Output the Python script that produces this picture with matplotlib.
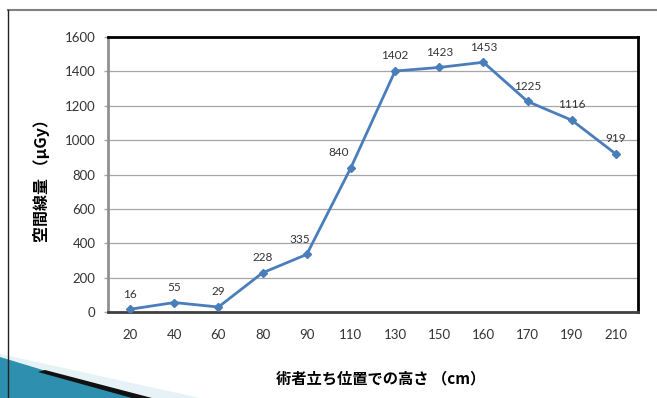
import matplotlib
matplotlib.use("Agg")
import matplotlib.pyplot as plt
from matplotlib.patches import Polygon
from matplotlib.lines import Line2D
import numpy as np

categories = ["20", "40", "60", "80", "90", "110", "130", "150", "160", "170", "190", "210"]
values = [16, 55, 29, 228, 335, 840, 1402, 1423, 1453, 1225, 1116, 919]
yticks = [0, 200, 400, 600, 800, 1000, 1200, 1400, 1600]
ylabel = "空間線量 （μGy）"
xlabel = "術者立ち位置での高さ （cm）"

# horizontal nudges (points) for labels that sit left of their marker
label_dx = {4: -5, 5: -9}

W, H = 657, 398
fig = plt.figure(figsize=(W / 100, H / 100), dpi=100)
fig.patch.set_facecolor("white")

def fx(px):
    return px / W

def fy(py):
    return 1 - py / H

# slide decoration
fig.add_artist(Polygon([(fx(0), fy(354)), (fx(200), fy(398)), (fx(135), fy(398)), (fx(0), fy(358))],
                       closed=True, transform=fig.transFigure, facecolor="#E6F2F6", edgecolor="none"))
fig.add_artist(Polygon([(fx(0), fy(357)), (fx(135), fy(398)), (fx(0), fy(398))],
                       closed=True, transform=fig.transFigure, facecolor="#2E8FAE", edgecolor="none"))
fig.add_artist(Polygon([(fx(45), fy(370)), (fx(152), fy(398)), (fx(132), fy(398)), (fx(38), fy(372))],
                       closed=True, transform=fig.transFigure, facecolor="#111111", edgecolor="none"))
fig.add_artist(Line2D([fx(8), fx(657)], [fy(10), fy(10)], transform=fig.transFigure, color="#808080", lw=1.5))
fig.add_artist(Line2D([fx(8), fx(8)], [fy(10), fy(398)], transform=fig.transFigure, color="#222222", lw=1.0))

ax = fig.add_axes([fx(108), fy(312), fx(638) - fx(108), fy(37) - fy(312)])
x = np.arange(len(categories))
ax.plot(x, values, color="#4A7EBB", lw=2, marker="D", markersize=4.5, zorder=3)
for i, (xi, v) in enumerate(zip(x, values)):
    ax.annotate(str(v), (xi, v), xytext=(label_dx.get(i, 0), 7), textcoords="offset points",
                ha="center", va="bottom", fontsize=8.5, color="#333333", family="Lato")

ax.set_xlim(-0.5, len(categories) - 0.5)
ax.set_ylim(0, 1600)
ax.set_yticks(yticks)
ax.set_xticks(x)
ax.set_xticklabels(categories)
ax.yaxis.grid(True, color="#A6A6A6", lw=0.9)
ax.set_axisbelow(True)
ax.tick_params(axis="x", length=0, pad=12, labelsize=9.5, colors="#333333")
ax.tick_params(axis="y", length=3, width=1, color="#A6A6A6", pad=6, labelsize=9.5, labelcolor="#333333")
for lbl in ax.get_xticklabels() + ax.get_yticklabels():
    lbl.set_family("Lato")

for side in ["top", "right"]:
    ax.spines[side].set_color("black")
    ax.spines[side].set_linewidth(2)
ax.spines["left"].set_color("#909090")
ax.spines["left"].set_linewidth(2)
ax.spines["bottom"].set_color("#404040")
ax.spines["bottom"].set_linewidth(2)

fig.text(fx(42), fy(177), ylabel, rotation=90, ha="center", va="center",
         fontsize=11.5, fontweight="bold", family=["Noto Sans CJK JP", "DejaVu Sans"])
fig.text(fx(381), fy(378), xlabel, ha="center", va="center",
         fontsize=11, fontweight="bold", family=["Noto Sans CJK JP", "DejaVu Sans"])

fig.savefig("out.png", dpi=100)
